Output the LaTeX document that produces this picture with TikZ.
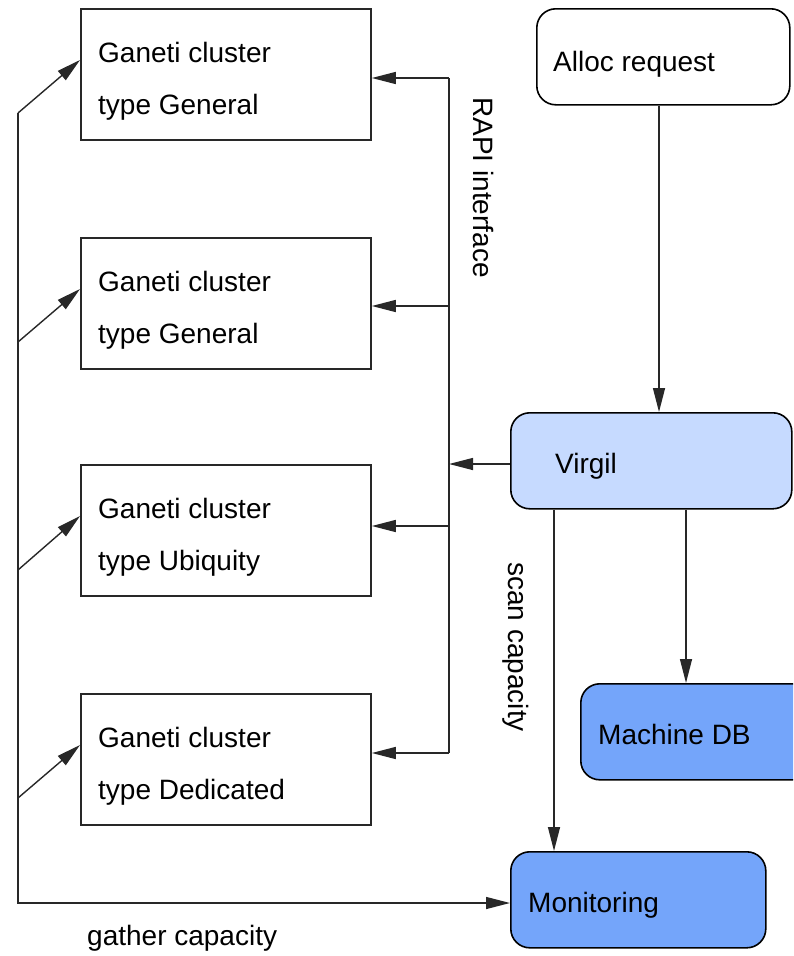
\documentclass[tikz,border=0pt]{standalone}
\usepackage{fontspec}
\setmainfont{Liberation Sans}
\usetikzlibrary{arrows.meta}
\definecolor{virgilfill}{RGB}{198,218,255}
\definecolor{dbfill}{RGB}{116,165,250}
\definecolor{edge}{RGB}{40,40,40}
\begin{document}
\begin{tikzpicture}[x=1pt,y=-1pt,
  box/.style={draw=edge, line width=1.8pt, fill=white, rectangle, inner sep=0pt,
    anchor=north west, minimum width=290pt, minimum height=131pt},
  rbox/.style={draw=black, line width=1.6pt, rounded corners=19pt, rectangle,
    inner sep=0pt, anchor=north west, minimum height=96pt},
  txt/.style={anchor=base west, inner sep=0pt, font=\fontsize{28}{34}\selectfont},
  conn/.style={line width=1.4pt, draw=edge},
  arr/.style={conn, -{Triangle[length=24pt,width=12pt]}}]
\useasboundingbox (0,0) rectangle (793,956);
\clip (0,0) rectangle (793,956);

% cluster boxes
\node[box] (c1) at (80,8) {};
\node[box] (c2) at (80,237) {};
\node[box] (c3) at (80,464) {};
\node[box] (c4) at (80,693) {};
\node[txt] (t1a) at (98,62) {Ganeti cluster};
\node[txt] (t1b) at (98,114) {type General};
\node[txt] (t2a) at (98,291) {Ganeti cluster};
\node[txt] (t2b) at (98,343) {type General};
\node[txt] (t3a) at (98,518) {Ganeti cluster};
\node[txt] (t3b) at (98,570) {type Ubiquity};
\node[txt] (t4a) at (98,747) {Ganeti cluster};
\node[txt] (t4b) at (98,799) {type Dedicated};

% rounded boxes
\node[rbox, fill=white, minimum width=253pt] (alloc) at (536,8) {};
\node[rbox, fill=virgilfill, minimum width=281pt] (virgil) at (510,412) {};
\node[rbox, fill=dbfill, minimum width=280pt] (mdb) at (580,683) {};
\node[rbox, fill=dbfill, minimum width=255pt] (mon) at (510,851) {};
\node[txt] (talloc) at (553,71) {Alloc request};
\node[txt] (tvirgil) at (555,473) {Virgil};
\node[txt] (tmdb) at (598,744) {Machine DB};
\node[txt] (tmon) at (528,912) {Monitoring};

% labels
\node[txt, rotate=-90] (lrapi) at (473,97) {RAPI interface};
\node[txt, rotate=-90] (lscan) at (508,562) {scan capacity};
\node[txt] (lgather) at (87,945) {gather capacity};

% helper coordinates
\coordinate (xa) at (659,0);
\coordinate (xm) at (686,0);
\coordinate (xs) at (554,0);
\coordinate (ra) at (449,0);
\coordinate (vw) at (510,464);
\coordinate (r1) at (449,78);
\coordinate (r2) at (449,306);
\coordinate (r3) at (449,526);
\coordinate (r4) at (449,753);
\coordinate (g0) at (18,113);
\coordinate (gb) at (18,903);
\coordinate (gm) at (510,903);
\coordinate (d1) at (18,113);
\coordinate (d2) at (18,342);
\coordinate (d3) at (18,570);
\coordinate (d4) at (18,798);
\coordinate (e1) at (80,60);
\coordinate (e2) at (80,289);
\coordinate (e3) at (80,516);
\coordinate (e4) at (80,745);

% connectors on the right
\draw[arr] (xa |- alloc.south) -- (xa |- virgil.north);
\draw[arr] (xm |- virgil.south) -- (xm |- mdb.north);
\draw[arr] (xs |- virgil.south) -- (xs |- mon.north);

% RAPI interface
\draw[arr] (vw) -- (vw -| ra);
\draw[conn] (r1) -- (r4);
\draw[arr] (r1) -- (r1 -| c1.east);
\draw[arr] (r2) -- (r2 -| c2.east);
\draw[arr] (r3) -- (r3 -| c3.east);
\draw[arr] (r4) -- (r4 -| c4.east);

% gather capacity
\draw[arr] (g0) -- (gb) -- (gm);
\draw[arr] (d1) -- (e1);
\draw[arr] (d2) -- (e2);
\draw[arr] (d3) -- (e3);
\draw[arr] (d4) -- (e4);
\end{tikzpicture}
\end{document}
